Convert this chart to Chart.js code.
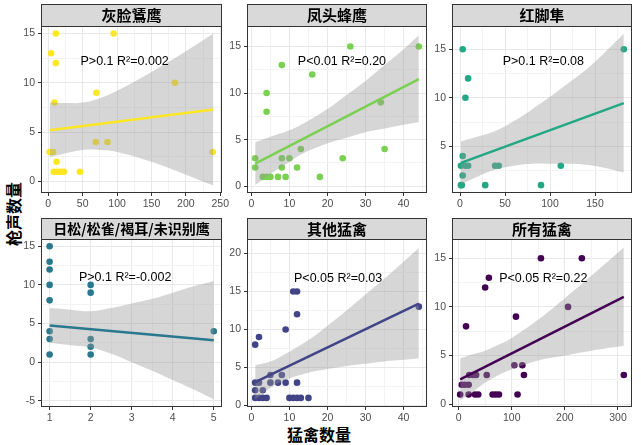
<!DOCTYPE html>
<html>
<head>
<meta charset="utf-8">
<script src="https://cdn.jsdelivr.net/npm/chart.js@4.4.1/dist/chart.umd.min.js"></script>
<style>
  body { margin: 0; background: #fff; width: 641px; height: 445px; position: relative; overflow: hidden; }
  canvas { position: absolute; }
  .ttl { position: absolute; font-family: "Noto Sans CJK SC"; font-weight: bold; font-size: 16px; color: #000; white-space: nowrap; }
  #ytitle { left: 13px; top: 214px; transform: translate(-50%, -50%) rotate(-90deg); }
  #xtitle { left: 319px; top: 434px; transform: translate(-50%, -50%); }
</style>
</head>
<body>
<div class="ttl" id="ytitle">枪声数量</div>
<div class="ttl" id="xtitle">猛禽数量</div>
<canvas id="c0"></canvas><canvas id="c1"></canvas><canvas id="c2"></canvas>
<canvas id="c3"></canvas><canvas id="c4"></canvas><canvas id="c5"></canvas>
<script>
// ---------------- facets ----------------
const titles = ["灰脸鵟鹰", "凤头蜂鹰", "红脚隼", "日松/松雀/褐耳/未识别鹰", "其他猛禽", "所有猛禽"];
const stats  = ["P>0.1 R²=0.002", "P<0.01 R²=0.20", "P>0.1 R²=0.08", "P>0.1 R²=-0.002", "P<0.05 R²=0.03", "P<0.05 R²=0.22"];
const statX  = [111, 23.8, 92.6, 2.84, 22.8, 159.5];
const statY  = [12.15, 13.4, 13.7, 10.9, 16.7, 12.95];
const colors = ["#FDE725", "#7AD151", "#22A884", "#2A788E", "#414487", "#440154"];

// ---------------- 灰脸鵟鹰 ----------------
const p1X = [2, 7, 4, 11, 11, 9, 12, 8, 12, 16, 20, 23, 46, 69, 86, 70, 95, 184, 239];
const p1Y = [3, 3, 13, 15, 12, 8, 2, 1, 1, 1, 1, 1, 1, 4, 4, 9, 15, 10, 3];
const p1BandX = [2, 30, 50, 75, 100, 150, 200, 240];
const p1Upper = [8.0, 7.95, 8.0, 8.45, 9.2, 11.1, 13.2, 15.0];
const p1Lower = [2.5, 2.95, 3.2, 3.2, 3.0, 2.0, 0.7, -0.4];
const p1LineX = [2, 240];
const p1LineY = [5.2, 7.3];

// ---------------- 凤头蜂鹰 ----------------
const p2X = [1, 1, 3, 4, 5, 7, 9, 18, 8, 8, 10, 12, 13, 24, 4, 4, 8, 16, 26, 34, 35, 44];
const p2Y = [3, 2, 1, 1, 1, 1, 1, 1, 3, 2, 3, 2, 4, 3, 10, 8, 13, 12, 15, 9, 4, 15];
const p2BandX = [1, 5, 10, 13, 20, 25, 30, 35, 40, 44];
const p2Upper = [4.7, 5.3, 6.0, 6.6, 8.3, 9.8, 11.3, 13.0, 14.7, 16.2];
const p2Lower = [0.1, 1.3, 2.6, 3.4, 4.6, 5.2, 5.8, 6.2, 6.6, 6.9];
const p2LineX = [1, 44];
const p2LineY = [2.43, 11.5];

// ---------------- 红脚隼 ----------------
const p3X = [3, 9, 6, 3, 1, 6, 9, 39, 43, 3, 1, 2, 28, 90, 112, 182];
const p3Y = [15, 12, 10, 4, 3, 3, 3, 3, 3, 2, 1, 1, 1, 1, 3, 15];
const p3BandX = [1, 20, 40, 60, 80, 100, 120, 140, 160, 182];
const p3Upper = [5.5, 6.0, 6.6, 7.6, 8.8, 10.1, 11.5, 12.9, 14.6, 16.6];
const p3Lower = [1.1, 1.9, 2.6, 3.0, 3.2, 3.2, 3.2, 3.1, 2.8, 2.3];
const p3LineX = [1, 182];
const p3LineY = [3.29, 9.45];

// ---------------- 日松/松雀/褐耳/未识别鹰 ----------------
const p4X = [1, 1, 1, 1, 1, 1, 1, 1, 2, 2, 2, 2, 2, 5];
const p4Y = [15, 13, 12, 10, 8, 4, 3, 1, 10, 9, 3, 2, 1, 4];
const p4BandX = [1, 1.5, 2, 2.5, 3, 3.5, 4, 4.5, 5];
const p4Upper = [7.0, 6.8, 6.6, 7.0, 7.6, 8.2, 9.0, 9.8, 10.5];
const p4Lower = [2.5, 2.2, 1.9, 1.1, 0.0, -1.1, -2.3, -3.5, -4.8];
const p4LineX = [1, 5];
const p4LineY = [4.75, 2.85];

// ---------------- 其他猛禽 ----------------
const p5X = [1, 2, 9, 11, 12, 12, 1, 2, 5, 7, 9, 12, 5, 8, 1, 3, 1, 2, 3, 4, 10, 11, 12, 13, 15, 44];
const p5Y = [8, 9, 10, 15, 15, 12, 3, 3, 3, 3, 3, 3, 4, 4, 2, 2, 1, 1, 1, 1, 1, 1, 1, 1, 1, 13];
const p5BandX = [1, 5, 8, 15, 20, 25, 30, 35, 40, 44];
const p5Upper = [5.3, 5.8, 6.5, 8.6, 10.5, 12.5, 14.6, 16.7, 18.9, 20.7];
const p5Lower = [0.8, 2.3, 3.2, 4.3, 4.8, 5.2, 5.5, 5.8, 6.0, 6.2];
const p5LineX = [1, 44];
const p5LineY = [3.07, 13.4];

// ---------------- 所有猛禽 ----------------
const p6X = [155, 232, 57, 50, 206, 108, 14, 105, 120, 123, 311, 53, 20, 27, 33, 6, 12, 19, 3, 19, 31, 37, 64, 70, 76, 111];
const p6Y = [15, 15, 13, 12, 10, 9, 8, 4, 4, 3, 3, 3, 3, 3, 3, 2, 2, 2, 1, 1, 1, 1, 1, 1, 1, 1];
const p6BandX = [3, 25, 50, 79, 100, 150, 200, 250, 311];
const p6Upper = [4.7, 5.1, 5.5, 6.2, 6.8, 8.7, 10.9, 13.2, 16.1];
const p6Lower = [0.4, 1.2, 2.2, 3.1, 3.6, 4.5, 5.0, 5.5, 6.0];
const p6LineX = [3, 311];
const p6LineY = [2.54, 11.04];

// ---------------- axes ----------------
const xMajor = [[0, 50, 100, 150, 200, 250], [0, 10, 20, 30, 40], [0, 50, 100, 150],
                [1, 2, 3, 4, 5], [0, 10, 20, 30, 40], [0, 100, 200, 300]];
const xMinor = [[25, 75, 125, 175, 225], [5, 15, 25, 35, 45], [25, 75, 125, 175],
                [1.5, 2.5, 3.5, 4.5], [5, 15, 25, 35, 45], [50, 150, 250]];
const yMajor = [[0, 5, 10, 15], [0, 5, 10, 15], [5, 10, 15],
                [-5, 0, 5, 10, 15], [0, 5, 10, 15, 20], [0, 5, 10, 15]];
const yMinor = [[2.5, 7.5, 12.5], [2.5, 7.5, 12.5], [2.5, 7.5, 12.5],
                [-2.5, 2.5, 7.5, 12.5], [2.5, 7.5, 12.5, 17.5], [2.5, 7.5, 12.5]];
const xLim = [[-10.6, 252.5], [-1.15, 46.15], [-8.9, 191.1], [0.79, 5.2], [-1.15, 46.15], [-12.4, 326.4]];
const yLim = [[-1.16, 15.76], [-0.73, 17.2], [0.19, 17.4], [-5.8, 15.94], [-0.2, 21.9], [-0.29, 16.98]];

// ---------------- HELFER ----------------
const pts = (xs, ys) => xs.map((x, i) => ({ x, y: ys[i] }));

const series = [
  [p1X, p1Y, p1BandX, p1Upper, p1Lower, p1LineX, p1LineY],
  [p2X, p2Y, p2BandX, p2Upper, p2Lower, p2LineX, p2LineY],
  [p3X, p3Y, p3BandX, p3Upper, p3Lower, p3LineX, p3LineY],
  [p4X, p4Y, p4BandX, p4Upper, p4Lower, p4LineX, p4LineY],
  [p5X, p5Y, p5BandX, p5Upper, p5Lower, p5LineX, p5LineY],
  [p6X, p6Y, p6BandX, p6Upper, p6Lower, p6LineX, p6LineY]
];

// panel boxes in page pixels (plot area + strip top)
const boxes = [
  { l: 41,  r: 222, t: 26,  b: 193, s: 4 },
  { l: 247, r: 427, t: 26,  b: 193, s: 4 },
  { l: 452, r: 632, t: 26,  b: 193, s: 4 },
  { l: 41,  r: 222, t: 239, b: 407, s: 218 },
  { l: 247, r: 427, t: 239, b: 407, s: 218 },
  { l: 452, r: 632, t: 239, b: 407, s: 218 }
];
const AXW = 40, AXH = 20, PADR = 14;

Chart.defaults.font.family = '"Liberation Sans", Arial, sans-serif';
Chart.defaults.font.size = 10.5;
Chart.defaults.color = "#4d4d4d";

const facetPlugin = {
  id: "facet",
  beforeDraw(chart, args, o) {
    const { ctx, chartArea: a } = chart;
    ctx.save();
    ctx.fillStyle = "#d9d9d9";
    ctx.fillRect(a.left, 1, a.right - a.left, a.top - 1);
    ctx.strokeStyle = "#333";
    ctx.lineWidth = 1;
    ctx.strokeRect(a.left + 0.5, 1.5, a.right - a.left - 1, a.top - 1);
    ctx.fillStyle = "#000";
    ctx.font = 'bold ' + o.size + 'px "Noto Sans CJK SC"';
    ctx.textAlign = "center";
    ctx.textBaseline = "middle";
    ctx.fillText(o.title, (a.left + a.right) / 2, (a.top + 1) / 2 + 0.5);
    ctx.restore();
  },
  afterDatasetsDraw(chart, args, o) {
    const { ctx, chartArea: a, scales } = chart;
    ctx.save();
    ctx.font = '12.5px "Liberation Sans", Arial, sans-serif';
    ctx.fillStyle = "#000";
    ctx.textAlign = "center";
    ctx.textBaseline = "middle";
    ctx.fillText(o.stat, scales.x.getPixelForValue(o.sx), scales.y.getPixelForValue(o.sy));
    ctx.strokeStyle = "#333";
    ctx.lineWidth = 1;
    ctx.strokeRect(a.left + 0.5, a.top + 0.5, a.right - a.left - 1, a.bottom - a.top - 1);
    ctx.restore();
  }
};

function axis(major, minor, lim, isX) {
  const all = major.concat(minor).sort((a, b) => a - b);
  return {
    type: "linear",
    min: lim[0],
    max: lim[1],
    afterBuildTicks: s => { s.ticks = all.map(v => ({ value: v })); },
    afterFit: s => { if (isX) s.height = AXH; else s.width = AXW; },
    border: { display: false },
    grid: {
      color: c => major.includes(c.tick.value) ? "#e8e8e8" : "#f3f3f3",
      tickColor: c => major.includes(c.tick.value) ? "#333" : "rgba(0,0,0,0)",
      tickLength: 3,
      lineWidth: 1
    },
    ticks: {
      autoSkip: false,
      maxRotation: 0,
      padding: isX ? 2 : 3,
      callback: v => major.includes(v) ? String(v) : ""
    }
  };
}

series.forEach((s, i) => {
  const [xs, ys, bx, up, lo, lx, ly] = s;
  const box = boxes[i];
  const cv = document.getElementById("c" + i);
  const top = box.s - 1;
  cv.width = box.r - box.l + AXW + PADR;
  cv.height = box.b - top + AXH;
  cv.style.left = (box.l - AXW) + "px";
  cv.style.top = top + "px";

  new Chart(cv, {
    type: "scatter",
    data: {
      datasets: [
        { data: pts(xs, ys), pointRadius: 3.3, pointBackgroundColor: colors[i],
          pointBorderWidth: 0, order: 3 },
        { type: "line", data: pts(bx, up), fill: "+1", backgroundColor: "rgba(153,153,153,0.4)",
          borderColor: "transparent", borderWidth: 0, pointRadius: 0, tension: 0.4, order: 2 },
        { type: "line", data: pts(bx, lo), fill: false,
          borderColor: "transparent", borderWidth: 0, pointRadius: 0, tension: 0.4, order: 2 },
        { type: "line", data: pts(lx, ly), fill: false, borderColor: colors[i],
          borderWidth: 2.5, pointRadius: 0, order: 1 }
      ]
    },
    options: {
      responsive: false,
      animation: false,
      devicePixelRatio: 1,
      events: [],
      layout: { padding: { left: 0, top: box.t - top, right: PADR, bottom: 0 } },
      scales: {
        x: axis(xMajor[i], xMinor[i], xLim[i], true),
        y: axis(yMajor[i], yMinor[i], yLim[i], false)
      },
      plugins: {
        legend: { display: false },
        tooltip: { enabled: false },
        facet: { title: titles[i], stat: stats[i], sx: statX[i], sy: statY[i], size: i === 3 ? 14 : 15 }
      }
    },
    plugins: [facetPlugin]
  });
});
</script>
</body>
</html>
